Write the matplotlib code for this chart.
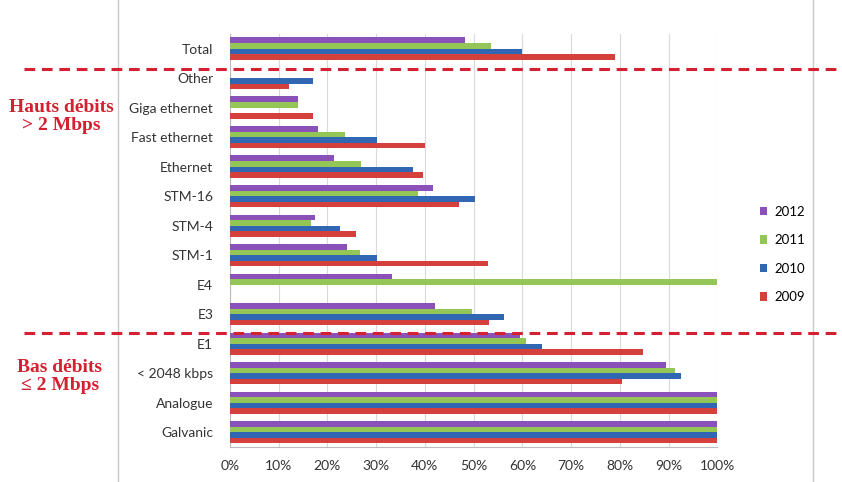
import matplotlib
matplotlib.use('Agg')
import matplotlib.pyplot as plt
from matplotlib.lines import Line2D
from matplotlib.patches import Patch
import numpy as np

# categories from top to bottom
categories = ['Total', 'Other', 'Giga ethernet', 'Fast ethernet', 'Ethernet',
              'STM-16', 'STM-4', 'STM-1', 'E4', 'E3', 'E1', '< 2048 kbps',
              'Analogue', 'Galvanic']

# share per year (%), same order as categories
v2012 = [48.3, 0, 14, 18, 21.3, 41.7, 17.4, 24.1, 33.3, 42, 59.6, 89.5, 100, 100]
v2011 = [53.5, 0, 14, 23.6, 27, 38.6, 16.6, 26.7, 100, 49.7, 60.8, 91.4, 100, 100]
v2010 = [60, 17.1, 0, 30.2, 37.5, 50.3, 22.5, 30.2, 0, 56.3, 64, 92.6, 100, 100]
v2009 = [79, 12.1, 17, 40, 39.6, 47.1, 25.9, 53, 0, 53.2, 84.8, 80.4, 100, 100]

years = ['2012', '2011', '2010', '2009']
colors = ['#8a52b8', '#93c656', '#3166b3', '#d4403c']
series = [v2012, v2011, v2010, v2009]

plt.rcParams['font.family'] = ['Lato', 'DejaVu Sans']

fig = plt.figure(figsize=(8.42, 4.82), dpi=100)
ax = fig.add_axes([0.273, 0.0726, 0.579, 0.857])

y = np.arange(len(categories))
h = 0.19
for k, (vals, c) in enumerate(zip(series, colors)):
    ax.barh(y - 1.5 * h + k * h, vals, height=h, color=c, zorder=3)

ax.set_ylim(len(categories) - 0.5, -0.5)
ax.set_xlim(0, 100)
ax.set_xticks(np.arange(0, 101, 10))
ax.set_xticklabels([f'{t}%' for t in range(0, 101, 10)], fontsize=10, color='#333333')
ax.set_yticks(y)
ax.set_yticklabels(categories, fontsize=10, color='#333333')
ax.tick_params(axis='y', length=0, pad=12)
ax.tick_params(axis='x', length=0, pad=9)
ax.xaxis.grid(True, color='#d9d9d9', linewidth=0.8, zorder=0)
for s in ['top', 'right']:
    ax.spines[s].set_visible(False)
ax.spines['left'].set_color('#bbbbbb')
ax.spines['bottom'].set_color('#bbbbbb')

# legend
handles = [Patch(facecolor=c, label=l) for c, l in zip(colors, years)]
fig.legend(handles=handles, loc='center left', bbox_to_anchor=(0.888, 0.472),
           frameon=False, fontsize=9.5, labelspacing=1.25, handlelength=0.6,
           handleheight=0.6, handletextpad=0.5)

# chart border lines
fig.add_artist(Line2D([0.140, 0.140], [0.0, 1.0], color='#c8c8c8', lw=1))
fig.add_artist(Line2D([0.965, 0.965], [0.0, 1.0], color='#c8c8c8', lw=1))

# red dashed separators
red = '#d42030'
for yy in [1 - 69 / 482, 1 - 333 / 482]:
    fig.add_artist(Line2D([0.029, 1.0], [yy, yy], color=red, lw=2.2,
                          dashes=(3.5, 2.2), zorder=5))

fig.text(0.073, 1 - 116.5 / 482, 'Hauts débits\n> 2 Mbps', color=red,
         family='Liberation Serif', fontweight='bold', fontsize=14,
         ha='center', va='center', linespacing=1.15)
fig.text(0.071, 1 - 376.5 / 482, 'Bas débits\n≤ 2 Mbps', color=red,
         family='Liberation Serif', fontweight='bold', fontsize=14,
         ha='center', va='center', linespacing=1.15)

fig.savefig('out.png', dpi=100)
